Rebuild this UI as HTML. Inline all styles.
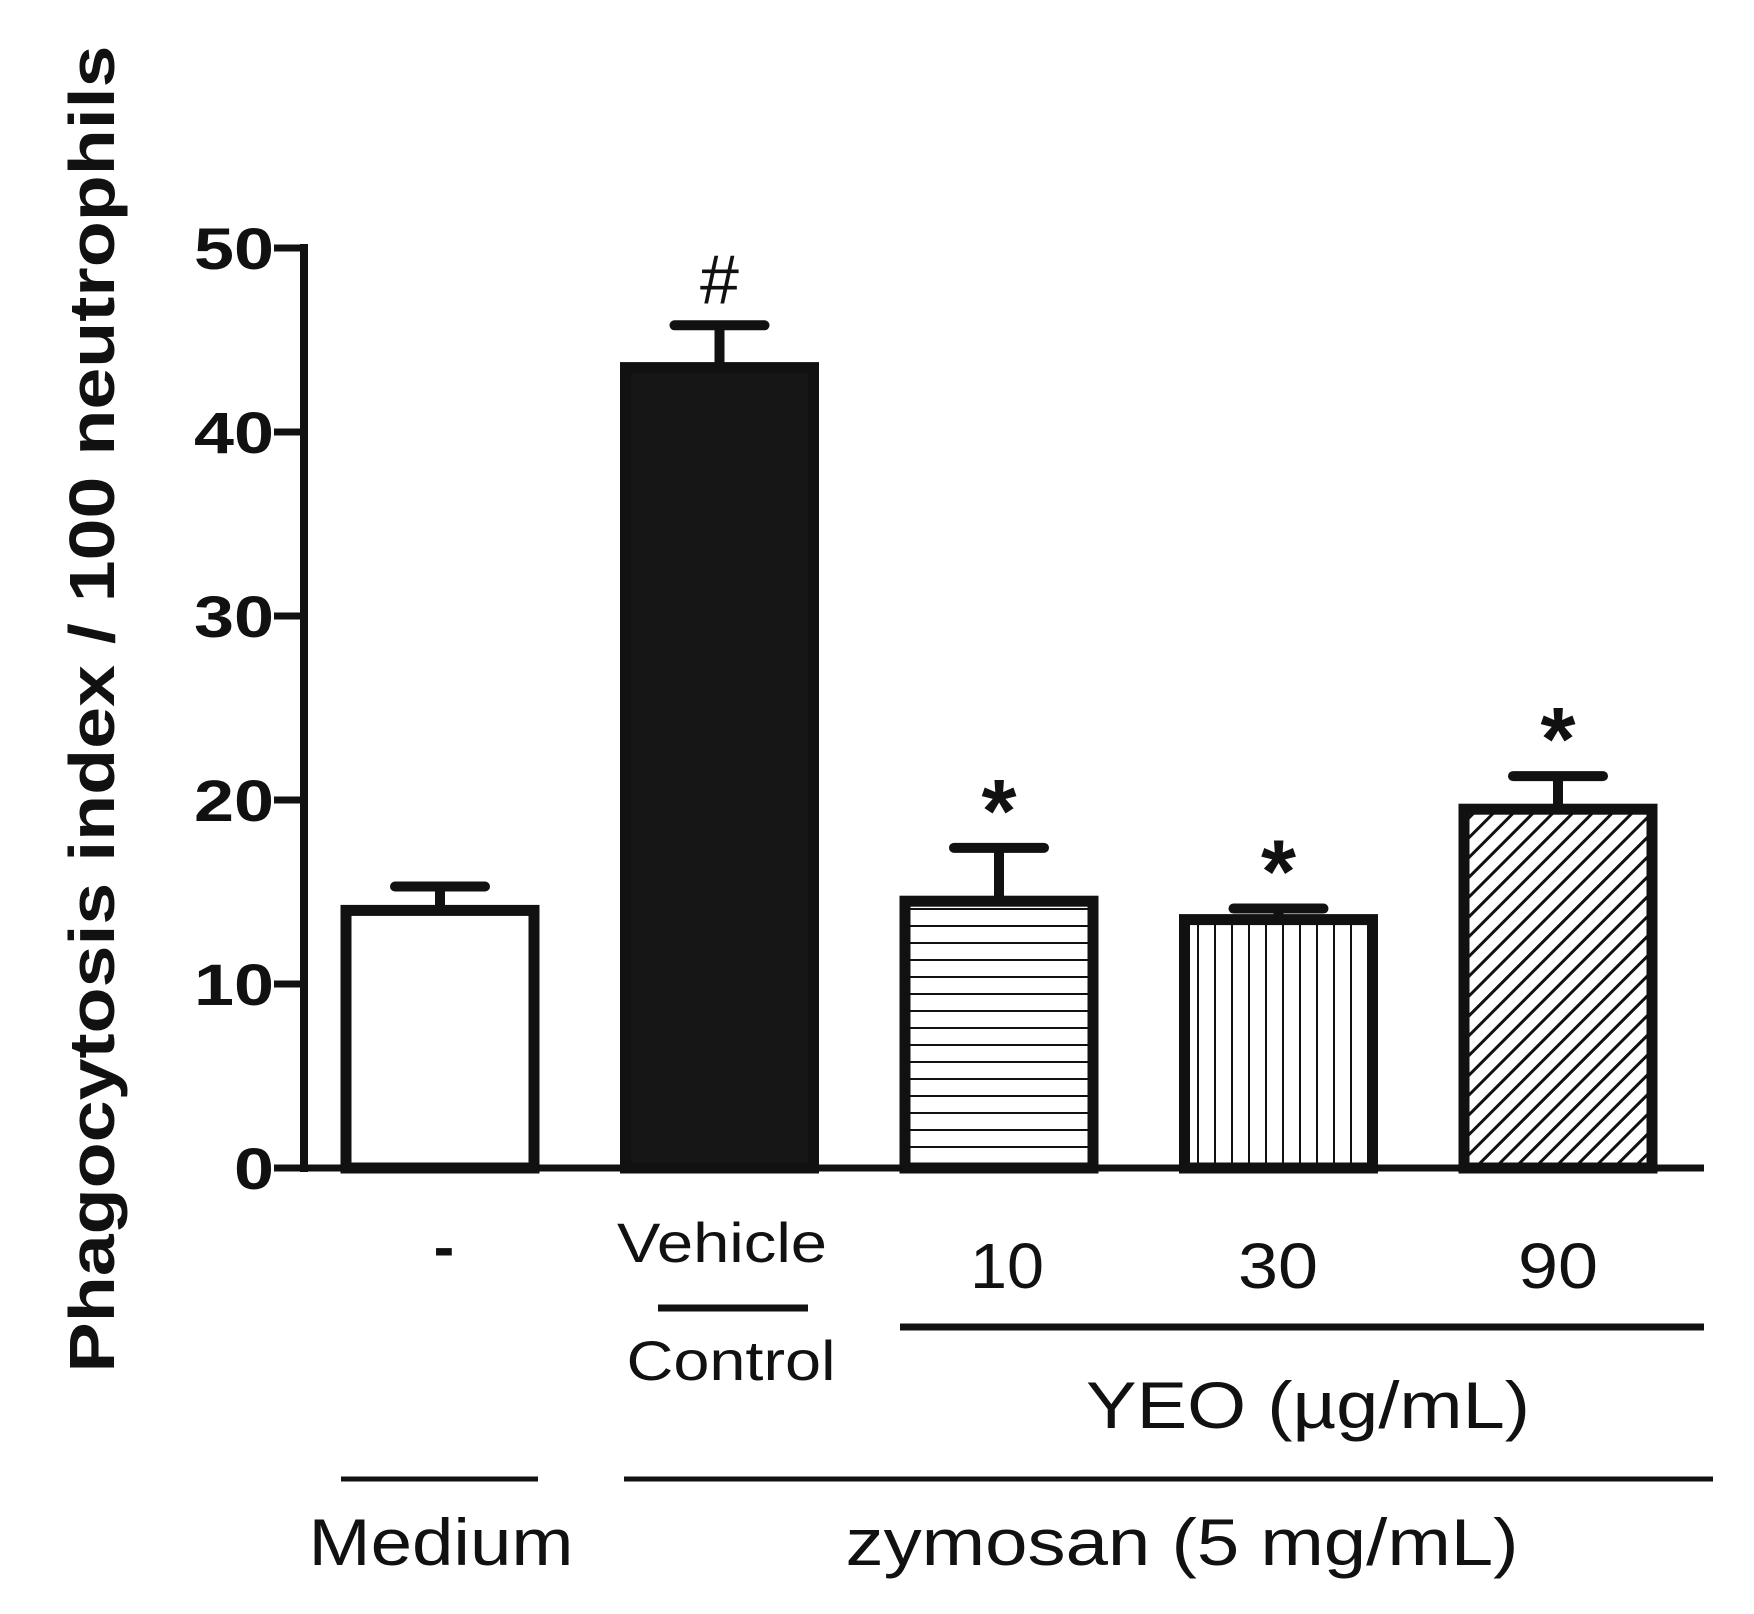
<!DOCTYPE html>
<html><head><meta charset="utf-8"><style>
body{margin:0;background:#fff;}
svg{display:block;font-family:"Liberation Sans",Arial,sans-serif;}
</style></head><body>
<svg id="chart" width="1754" height="1614" viewBox="0 0 1754 1614">
<defs>
<pattern id="hlines" width="20" height="17" patternUnits="userSpaceOnUse"><rect width="20" height="17" fill="#fff"/><line x1="0" y1="8" x2="20" y2="8" stroke="#111" stroke-width="2"/></pattern>
<pattern id="vlines" width="17" height="20" patternUnits="userSpaceOnUse"><rect width="17" height="20" fill="#fff"/><line x1="8" y1="0" x2="8" y2="20" stroke="#111" stroke-width="2"/></pattern>
<pattern id="dlines" width="14" height="14" patternUnits="userSpaceOnUse" patternTransform="rotate(45)"><rect width="14" height="14" fill="#fff"/><line x1="7" y1="0" x2="7" y2="14" stroke="#111" stroke-width="3"/></pattern>
</defs>
<g id="bars"></g>
<g id="axis"></g>
<text x="92" y="709" transform="rotate(-90 92 709)" text-anchor="middle" dominant-baseline="central" font-size="64" font-weight="bold" fill="#111" textLength="1327" lengthAdjust="spacingAndGlyphs">Phagocytosis index / 100 neutrophils</text>
<text x="444" y="1268" text-anchor="middle" font-size="62" font-weight="bold" fill="#111">-</text>
<text x="722" y="1262" text-anchor="middle" font-size="56" fill="#111" textLength="210" lengthAdjust="spacingAndGlyphs">Vehicle</text>
<line x1="658" y1="1308" x2="808" y2="1308" stroke="#111" stroke-width="7"/>
<text x="731" y="1380" text-anchor="middle" font-size="56" fill="#111" textLength="209" lengthAdjust="spacingAndGlyphs">Control</text>
<text x="1007" y="1288" text-anchor="middle" font-size="64" fill="#111" textLength="74" lengthAdjust="spacingAndGlyphs">10</text>
<text x="1278" y="1288" text-anchor="middle" font-size="64" fill="#111" textLength="80" lengthAdjust="spacingAndGlyphs">30</text>
<text x="1558" y="1288" text-anchor="middle" font-size="64" fill="#111" textLength="80" lengthAdjust="spacingAndGlyphs">90</text>
<line x1="900" y1="1327" x2="1704" y2="1327" stroke="#111" stroke-width="7"/>
<text x="1308" y="1428" text-anchor="middle" font-size="66" fill="#111" textLength="444" lengthAdjust="spacingAndGlyphs">YEO (µg/mL)</text>
<line x1="341" y1="1479" x2="538" y2="1479" stroke="#111" stroke-width="5"/>
<line x1="624" y1="1479" x2="1713" y2="1479" stroke="#111" stroke-width="5"/>
<text x="441" y="1565" text-anchor="middle" font-size="66" fill="#111" textLength="265" lengthAdjust="spacingAndGlyphs">Medium</text>
<text x="1182" y="1565" text-anchor="middle" font-size="66" fill="#111" textLength="673" lengthAdjust="spacingAndGlyphs">zymosan (5 mg/mL)</text>
</svg>
<script>
const categories = ["Medium", "Vehicle", "YEO 10", "YEO 30", "YEO 90"];
const means = [14.0, 43.5, 14.5, 13.5, 19.5];
const errors = [1.3, 2.3, 2.9, 0.6, 1.8];
const marks = ["", "#", "*", "*", "*"];
const yTicks = [0, 10, 20, 30, 40, 50];
const fills = ["#fff", "#161616", "url(#hlines)", "url(#vlines)", "url(#dlines)"];

const NS = "http://www.w3.org/2000/svg";
const y0 = 1168, y50 = 248, yMax = 50;
function yScale(v){ return y0 - (v / yMax) * (y0 - y50); }
function xCenter(i){ return 440 + i * 279.5; }
const barW = 188;
function mk(tag, attrs, parent){ const e = document.createElementNS(NS, tag); for (const k in attrs) e.setAttribute(k, attrs[k]); parent.appendChild(e); return e; }

const axis = document.getElementById("axis");
const bars = document.getElementById("bars");

categories.forEach((c, i) => {
  const cx = xCenter(i), top = yScale(means[i]), et = yScale(means[i] + errors[i]);
  const eb = mk("line", {x1: cx, y1: top, x2: cx, y2: et, stroke: "#111", "stroke-width": 10}, bars);
  
  
  const cap = mk("line", {x1: cx - 45, y1: et, x2: cx + 45, y2: et, stroke: "#111", "stroke-width": 10, "stroke-linecap": "round"}, bars);
  
  
  const r = mk("rect", {x: cx - barW / 2, y: top, width: barW, height: y0 - top, fill: fills[i], stroke: "#111", "stroke-width": 11}, bars);
  
  
  if (marks[i]) {
    const t = mk("text", {x: cx, y: et - (marks[i] === "#" ? 22 : 6), "text-anchor": "middle", "font-size": marks[i] === "#" ? 70 : 90, "font-weight": marks[i] === "#" ? "normal" : "bold", fill: "#111"}, bars);
    t.textContent = marks[i];
    
    
  }
});

const ya = mk("line", {x1: 304, y1: y50 - 4, x2: 304, y2: y0 + 4, stroke: "#111", "stroke-width": 8}, axis);


const xa = mk("line", {x1: 274, y1: y0, x2: 1704, y2: y0, stroke: "#111", "stroke-width": 7}, axis);


yTicks.forEach(v => {
  const y = yScale(v);
  const tk = mk("line", {x1: 274, y1: y, x2: 304, y2: y, stroke: "#111", "stroke-width": 7}, axis);
  
  
  const tl = mk("text", {x: 274, y: y + 21, "text-anchor": "end", "font-size": 58, "font-weight": "bold", fill: "#111", textLength: String(v).length * 40, lengthAdjust: "spacingAndGlyphs"}, axis);
  tl.textContent = v;
  
  
});
</script>
</body></html>
